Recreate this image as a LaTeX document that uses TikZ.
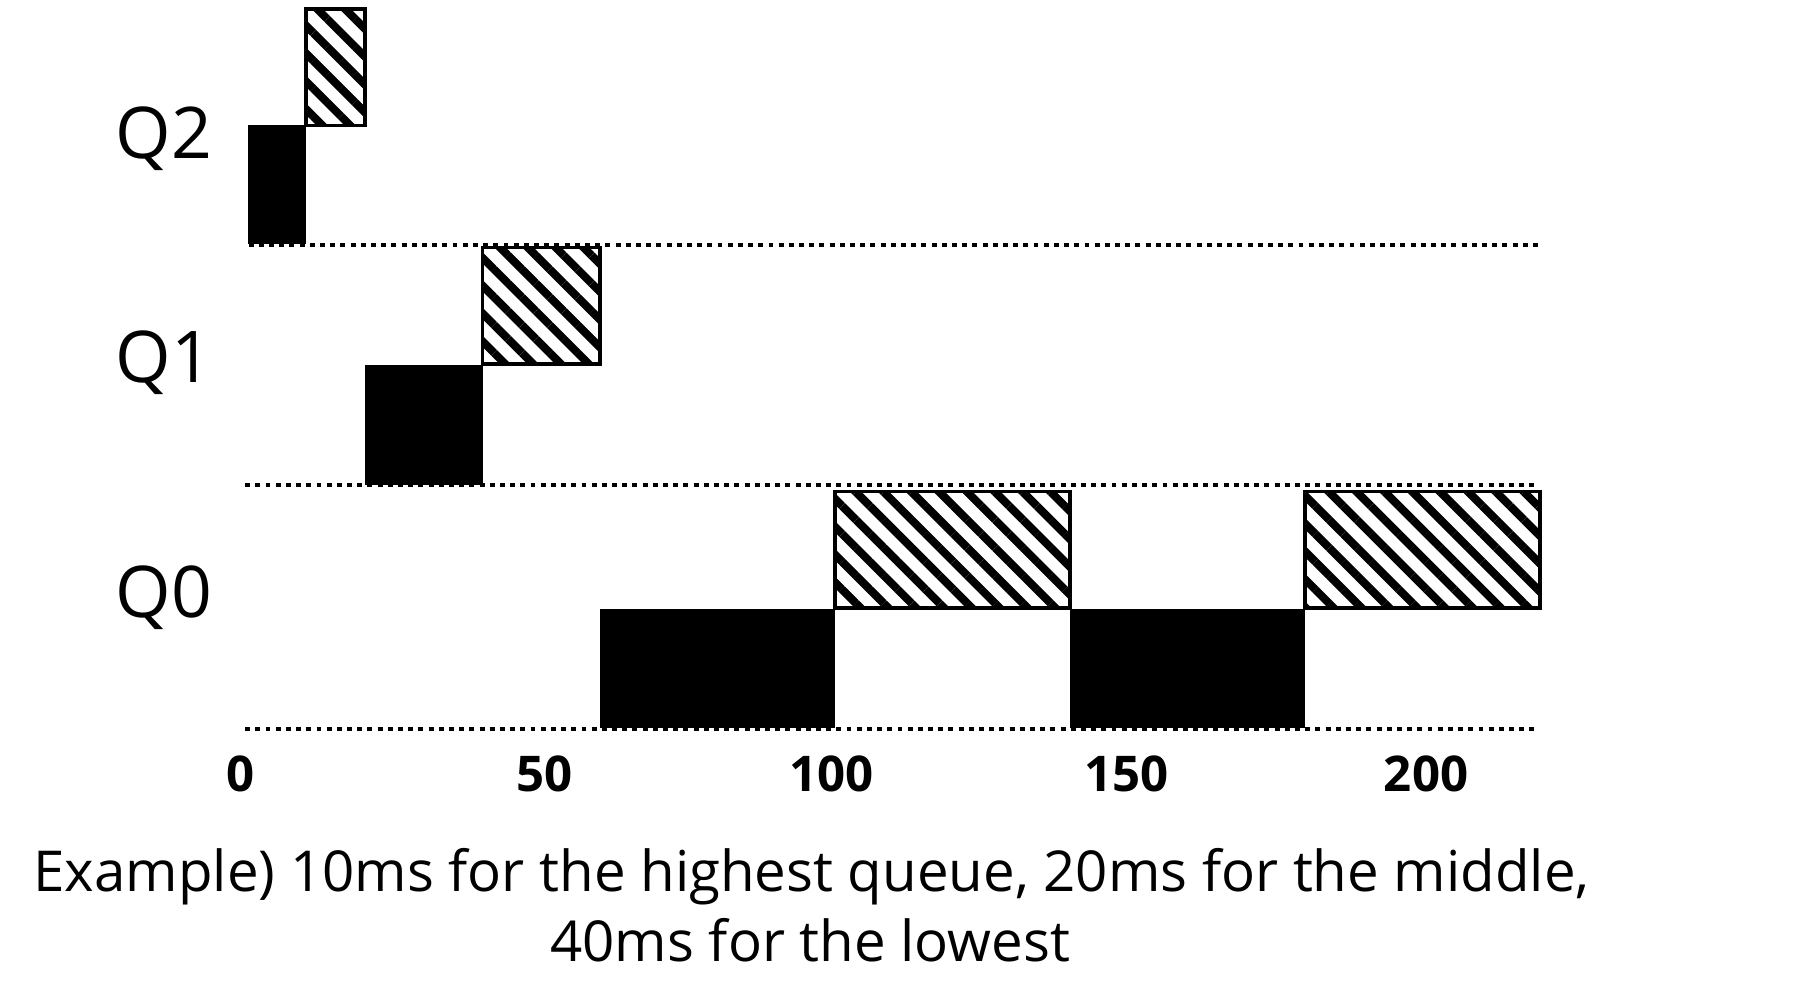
\documentclass[tikz,border=0pt]{standalone}
\usepackage{fontspec}
\setmainfont{Open Sans}
\usetikzlibrary{patterns.meta}

\begin{document}
\begin{tikzpicture}[x=0.05875cm, y=1cm,
  run/.style={fill=black},
  wait/.style={draw=black, line width=1.1pt, pattern={Lines[angle=-45, distance=5.6pt, line width=2.3pt]}},
  level/.style={line width=1.4pt, dash pattern=on 1.4pt off 1.5pt},
  qname/.style={font=\fontsize{20.3}{24}\selectfont, anchor=base east},
  tick/.style={font=\bfseries\fontsize{14}{17}\selectfont, anchor=base},
  note/.style={font=\fontsize{16.05}{19}\selectfont, anchor=base}]
  \useasboundingbox (-42.13,-2.71) rectangle (265.28,7.29);
  % queue levels
  \draw[level] (-0.4,0) -- (219.6,0);
  \draw[level] (-0.4,2.44) -- (219.6,2.44);
  \draw[level] (0.2,4.84) -- (219.6,4.84);
  % running slices
  \foreach \s/\e/\y in {0/10/4.845, 20/40/2.445, 60/100/0.01, 140/180/0.01}
    \fill[run] (\s,\y) rectangle (\e,\y+1.195);
  % waiting slices
  \foreach \s/\e/\y in {10/20/6.035, 40/60/3.65, 100/140/1.21, 180/220/1.21}
    \draw[wait] (\s,\y) rectangle (\e,\y+1.165);
  % queue names
  \node[qname] (q2) at (-3.9,5.7) {Q2};
  \node[qname] (q1) at (-3.9,3.47) {Q1};
  \node[qname] (q0) at (-3.9,1.12) {Q0};
  % time axis
  \foreach \tm/\xp in {0/-1.2, 50/50.6, 100/99.4, 150/149.6, 200/200.6}
    \node[tick] (t\tm) at (\xp,-0.627) {\tm};
  \node[note] (cap1) at (96,-1.627) {Example) 10ms for the highest queue, 20ms for the middle,};
  \node[note] (cap2) at (95.8,-2.32) {40ms for the lowest};
\end{tikzpicture}
\end{document}
